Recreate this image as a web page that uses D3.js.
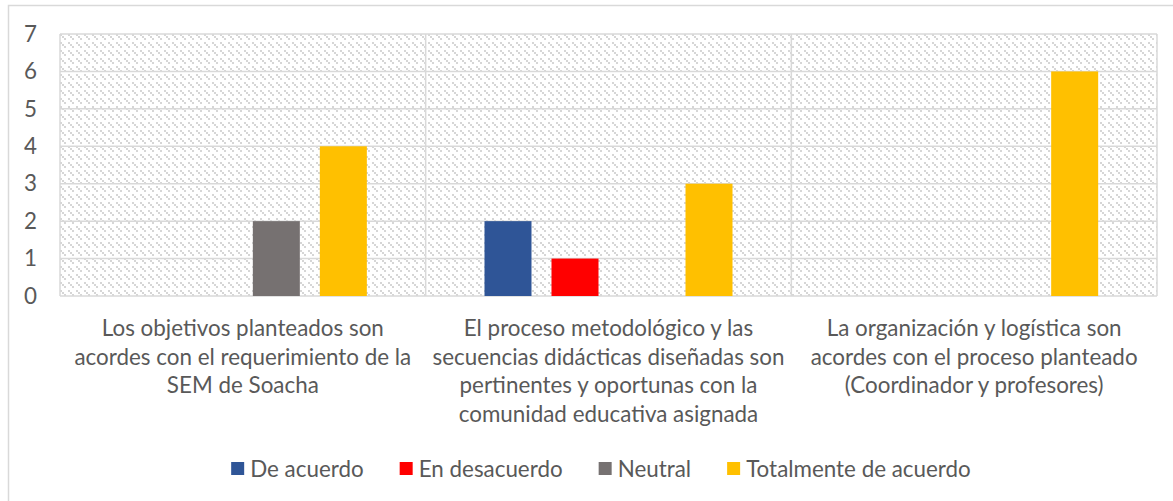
<!DOCTYPE html>
<html lang="es">
<head>
    <meta charset="UTF-8">
    <title>Evaluación</title>
    <style>
        body{
            margin: 0;
            background: white;
        }
        svg{
            display: block;
            font-family: Lato, "Open Sans", sans-serif;
        }
        .tick text, .catLabel, .legend text{
            fill: #595959;
        }
    </style>
    <script src="https://cdn.jsdelivr.net/npm/d3@7"></script>
</head>
<body>
<script>
    const width = 1173
    const height = 501

    // categorias del eje x (una linea por renglon, como en la grafica)
    const categories = ["cat1", "cat2", "cat3"]
    const categoryLines = [
        ["Los objetivos planteados son", "acordes con el requerimiento de la", "SEM de Soacha"],
        ["El proceso metodológico y las", "secuencias didácticas diseñadas son", "pertinentes y oportunas con la", "comunidad educativa asignada"],
        ["La organización y logística son", "acordes con el proceso planteado", "(Coordinador y profesores)"]
    ]
    const seriesNames = ["De acuerdo", "En desacuerdo", "Neutral", "Totalmente de acuerdo"]
    const seriesColors = ["#2F5597", "#FF0000", "#767171", "#FFC000"]
    const deAcuerdo = [0, 2, 0]
    const enDesacuerdo = [0, 1, 0]
    const neutral = [2, 0, 0]
    const totalmente = [4, 3, 6]
    const yTicks = [0, 1, 2, 3, 4, 5, 6, 7]

    const seriesValues = [deAcuerdo, enDesacuerdo, neutral, totalmente]

    const margin = {left: 60, right: 16, top: 34, bottom: 205}
    const plotW = width - margin.left - margin.right
    const plotH = height - margin.top - margin.bottom
    const fontSize = "22.4px"

    let svg = d3.select("body").append("svg")
        .attr("width", width)
        .attr("height", height)

    // fondo rayado del area de trazado
    let defs = svg.append("defs")
    let pat = defs.append("pattern")
        .attr("id", "hatch")
        .attr("patternUnits", "userSpaceOnUse")
        .attr("width", 8).attr("height", 8)
    pat.append("rect").attr("width", 8).attr("height", 8).attr("fill", "white")
    for (let k = 0; k < 3; k++) {
        pat.append("rect").attr("x", k * 2).attr("y", k * 2)
            .attr("width", 2).attr("height", 2).attr("fill", "#d6d6d6")
    }

    // marco exterior del grafico (cortado a la derecha y abajo)
    svg.append("path")
        .attr("d", `M8.5,${height} V5.5 H${width}`)
        .attr("fill", "none")
        .attr("stroke", "#d9d9d9")
        .attr("stroke-width", 1.5)

    const x0 = d3.scaleBand()
        .domain(categories)
        .range([0, plotW])
        .padding(0)

    const x1 = d3.scaleBand()
        .domain(seriesNames)
        .range([0, x0.bandwidth()])
        .paddingInner(0.2985)
        .paddingOuter(0.878)

    const y = d3.scaleLinear()
        .domain([0, 7])
        .range([plotH, 0])

    let g = svg.append("g").attr("transform", `translate(${margin.left},${margin.top})`)

    g.append("rect")
        .attr("width", plotW)
        .attr("height", plotH)
        .attr("fill", "url(#hatch)")

    // lineas de cuadricula
    g.selectAll(".hgrid")
        .data(yTicks)
        .enter()
        .append("line")
        .attr("x1", 0).attr("x2", plotW)
        .attr("y1", d => y(d)).attr("y2", d => y(d))
        .attr("stroke", "#d9d9d9")
        .attr("stroke-width", 1.5)

    g.selectAll(".vgrid")
        .data(categories.concat(["end"]))
        .enter()
        .append("line")
        .attr("x1", (d, i) => i < categories.length ? x0(d) : plotW)
        .attr("x2", (d, i) => i < categories.length ? x0(d) : plotW)
        .attr("y1", 0).attr("y2", plotH)
        .attr("stroke", "#d9d9d9")
        .attr("stroke-width", 1.5)

    // barras
    let groups = g.selectAll(".grp")
        .data(categories)
        .enter()
        .append("g")
        .attr("transform", d => `translate(${x0(d)},0)`)

    groups.selectAll("rect")
        .data((d, ci) => seriesNames.map((s, si) => ({s: s, v: seriesValues[si][ci], c: seriesColors[si]})))
        .enter()
        .append("rect")
        .attr("x", d => x1(d.s))
        .attr("width", x1.bandwidth())
        .attr("y", d => y(d.v))
        .attr("height", d => y(0) - y(d.v))
        .attr("fill", d => d.c)

    groups.selectAll("rect").filter(d => d.v === 0).remove()

    // eje y
    let yAxis = g.append("g")
        .call(d3.axisLeft(y).tickValues(yTicks).tickSize(0).tickPadding(23).tickFormat(d3.format("d")))
    yAxis.select(".domain").remove()
    yAxis.selectAll("text").style("font-size", fontSize).style("font-family", "Lato, sans-serif")

    // etiquetas de categorias
    groups.append("text")
        .attr("class", "catLabel")
        .attr("x", x0.bandwidth() / 2)
        .attr("text-anchor", "middle")
        .style("font-size", fontSize)
        .selectAll("tspan")
        .data((d, i) => categoryLines[i])
        .enter()
        .append("tspan")
        .attr("x", x0.bandwidth() / 2)
        .attr("y", (d, i) => plotH + 40 + i * 28.7)
        .text(d => d)

    // leyenda
    let legend = svg.append("g").attr("class", "legend")
    let items = legend.selectAll("g")
        .data(seriesNames)
        .enter()
        .append("g")
    items.append("rect")
        .attr("width", 13).attr("height", 13)
        .attr("y", 462)
        .attr("fill", (d, i) => seriesColors[i])
    items.append("text")
        .attr("x", 19)
        .attr("y", 476.5)
        .style("font-size", fontSize)
        .text(d => d)

    let pos = 0
    items.each(function () {
        d3.select(this).attr("transform", `translate(${pos},0)`)
        pos += 19 + d3.select(this).select("text").node().getComputedTextLength() + 36
    })
    let total = pos - 36
    legend.attr("transform", `translate(${601 - total / 2},0)`)
</script>
</body>
</html>
